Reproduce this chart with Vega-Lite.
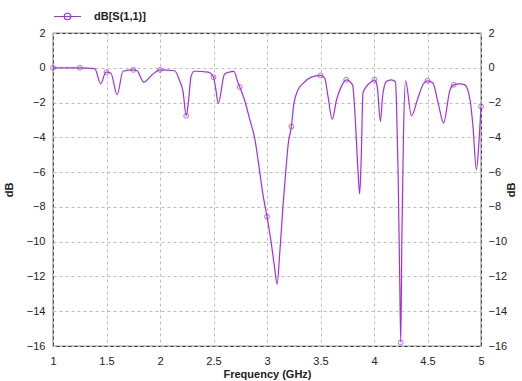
{
  "$schema": "https://vega.github.io/schema/vega-lite/v6.json",
  "width": 428,
  "height": 313,
  "autosize": {"type": "none"},
  "padding": {"left": 53, "top": 33, "right": 41, "bottom": 35},
  "background": "white",
  "config": {
    "font": "Liberation Sans",
    "view": {"stroke": "#333333", "strokeWidth": 1.2},
    "axis": {
      "labelFont": "Liberation Sans",
      "labelFontSize": 11,
      "labelColor": "#222222",
      "titleFont": "Liberation Sans",
      "titleFontSize": 11,
      "titleFontWeight": "bold",
      "titleColor": "#222222",
      "ticks": false,
      "domain": false,
      "gridColor": "#bdbdbd",
      "gridDash": [3, 3],
      "gridWidth": 1
    }
  },
  "data": {
    "values": [
      {"f": 1.0, "db": 0.0, "m": 1, "s": "dB[S(1,1)]"},
      {"f": 1.25, "db": 0.0, "m": 1, "s": "dB[S(1,1)]"},
      {"f": 1.39, "db": -0.05, "m": 0, "s": "dB[S(1,1)]"},
      {"f": 1.446, "db": -0.92, "m": 0, "s": "dB[S(1,1)]"},
      {"f": 1.49, "db": -0.28, "m": 0, "s": "dB[S(1,1)]"},
      {"f": 1.5, "db": -0.25, "m": 1, "s": "dB[S(1,1)]"},
      {"f": 1.54, "db": -0.3, "m": 0, "s": "dB[S(1,1)]"},
      {"f": 1.6, "db": -1.55, "m": 0, "s": "dB[S(1,1)]"},
      {"f": 1.654, "db": -0.2, "m": 0, "s": "dB[S(1,1)]"},
      {"f": 1.75, "db": -0.12, "m": 1, "s": "dB[S(1,1)]"},
      {"f": 1.785, "db": -0.17, "m": 0, "s": "dB[S(1,1)]"},
      {"f": 1.85, "db": -0.83, "m": 0, "s": "dB[S(1,1)]"},
      {"f": 1.92, "db": -0.44, "m": 0, "s": "dB[S(1,1)]"},
      {"f": 2.0, "db": -0.12, "m": 1, "s": "dB[S(1,1)]"},
      {"f": 2.137, "db": -0.17, "m": 0, "s": "dB[S(1,1)]"},
      {"f": 2.18, "db": -0.69, "m": 0, "s": "dB[S(1,1)]"},
      {"f": 2.215, "db": -1.36, "m": 0, "s": "dB[S(1,1)]"},
      {"f": 2.245, "db": -2.76, "m": 1, "s": "dB[S(1,1)]"},
      {"f": 2.265, "db": -2.0, "m": 0, "s": "dB[S(1,1)]"},
      {"f": 2.29, "db": -0.5, "m": 0, "s": "dB[S(1,1)]"},
      {"f": 2.32, "db": -0.2, "m": 0, "s": "dB[S(1,1)]"},
      {"f": 2.45, "db": -0.25, "m": 0, "s": "dB[S(1,1)]"},
      {"f": 2.5, "db": -0.54, "m": 1, "s": "dB[S(1,1)]"},
      {"f": 2.52, "db": -1.17, "m": 0, "s": "dB[S(1,1)]"},
      {"f": 2.545, "db": -2.05, "m": 0, "s": "dB[S(1,1)]"},
      {"f": 2.6, "db": -0.4, "m": 0, "s": "dB[S(1,1)]"},
      {"f": 2.62, "db": -0.3, "m": 0, "s": "dB[S(1,1)]"},
      {"f": 2.69, "db": -0.21, "m": 0, "s": "dB[S(1,1)]"},
      {"f": 2.73, "db": -0.88, "m": 0, "s": "dB[S(1,1)]"},
      {"f": 2.745, "db": -1.1, "m": 1, "s": "dB[S(1,1)]"},
      {"f": 2.79, "db": -1.85, "m": 0, "s": "dB[S(1,1)]"},
      {"f": 2.84, "db": -3.0, "m": 0, "s": "dB[S(1,1)]"},
      {"f": 2.885, "db": -4.05, "m": 0, "s": "dB[S(1,1)]"},
      {"f": 2.925, "db": -5.68, "m": 0, "s": "dB[S(1,1)]"},
      {"f": 2.96, "db": -7.21, "m": 0, "s": "dB[S(1,1)]"},
      {"f": 3.0, "db": -8.56, "m": 1, "s": "dB[S(1,1)]"},
      {"f": 3.04, "db": -10.1, "m": 0, "s": "dB[S(1,1)]"},
      {"f": 3.07, "db": -11.44, "m": 0, "s": "dB[S(1,1)]"},
      {"f": 3.094, "db": -12.45, "m": 0, "s": "dB[S(1,1)]"},
      {"f": 3.119, "db": -10.67, "m": 0, "s": "dB[S(1,1)]"},
      {"f": 3.15, "db": -7.9, "m": 0, "s": "dB[S(1,1)]"},
      {"f": 3.18, "db": -5.6, "m": 0, "s": "dB[S(1,1)]"},
      {"f": 3.2, "db": -4.3, "m": 0, "s": "dB[S(1,1)]"},
      {"f": 3.228, "db": -3.38, "m": 1, "s": "dB[S(1,1)]"},
      {"f": 3.25, "db": -2.1, "m": 0, "s": "dB[S(1,1)]"},
      {"f": 3.29, "db": -1.27, "m": 0, "s": "dB[S(1,1)]"},
      {"f": 3.34, "db": -0.88, "m": 0, "s": "dB[S(1,1)]"},
      {"f": 3.415, "db": -0.54, "m": 0, "s": "dB[S(1,1)]"},
      {"f": 3.5, "db": -0.44, "m": 1, "s": "dB[S(1,1)]"},
      {"f": 3.54, "db": -0.59, "m": 0, "s": "dB[S(1,1)]"},
      {"f": 3.57, "db": -1.65, "m": 0, "s": "dB[S(1,1)]"},
      {"f": 3.61, "db": -2.95, "m": 0, "s": "dB[S(1,1)]"},
      {"f": 3.65, "db": -1.84, "m": 0, "s": "dB[S(1,1)]"},
      {"f": 3.695, "db": -1.07, "m": 0, "s": "dB[S(1,1)]"},
      {"f": 3.74, "db": -0.69, "m": 1, "s": "dB[S(1,1)]"},
      {"f": 3.8, "db": -0.98, "m": 0, "s": "dB[S(1,1)]"},
      {"f": 3.82, "db": -2.42, "m": 0, "s": "dB[S(1,1)]"},
      {"f": 3.85, "db": -5.87, "m": 0, "s": "dB[S(1,1)]"},
      {"f": 3.866, "db": -7.25, "m": 0, "s": "dB[S(1,1)]"},
      {"f": 3.88, "db": -5.3, "m": 0, "s": "dB[S(1,1)]"},
      {"f": 3.897, "db": -1.46, "m": 0, "s": "dB[S(1,1)]"},
      {"f": 3.93, "db": -1.07, "m": 0, "s": "dB[S(1,1)]"},
      {"f": 3.96, "db": -0.88, "m": 0, "s": "dB[S(1,1)]"},
      {"f": 4.005, "db": -0.69, "m": 1, "s": "dB[S(1,1)]"},
      {"f": 4.03, "db": -1.07, "m": 0, "s": "dB[S(1,1)]"},
      {"f": 4.06, "db": -3.09, "m": 0, "s": "dB[S(1,1)]"},
      {"f": 4.08, "db": -1.65, "m": 0, "s": "dB[S(1,1)]"},
      {"f": 4.115, "db": -0.79, "m": 0, "s": "dB[S(1,1)]"},
      {"f": 4.16, "db": -0.69, "m": 0, "s": "dB[S(1,1)]"},
      {"f": 4.2, "db": -0.79, "m": 0, "s": "dB[S(1,1)]"},
      {"f": 4.21, "db": -2.0, "m": 0, "s": "dB[S(1,1)]"},
      {"f": 4.225, "db": -6.0, "m": 0, "s": "dB[S(1,1)]"},
      {"f": 4.24, "db": -12.0, "m": 0, "s": "dB[S(1,1)]"},
      {"f": 4.25, "db": -15.79, "m": 1, "s": "dB[S(1,1)]"},
      {"f": 4.26, "db": -10.0, "m": 0, "s": "dB[S(1,1)]"},
      {"f": 4.275, "db": -4.0, "m": 0, "s": "dB[S(1,1)]"},
      {"f": 4.295, "db": -0.75, "m": 0, "s": "dB[S(1,1)]"},
      {"f": 4.35, "db": -2.76, "m": 0, "s": "dB[S(1,1)]"},
      {"f": 4.41, "db": -1.75, "m": 0, "s": "dB[S(1,1)]"},
      {"f": 4.457, "db": -0.98, "m": 0, "s": "dB[S(1,1)]"},
      {"f": 4.5, "db": -0.75, "m": 1, "s": "dB[S(1,1)]"},
      {"f": 4.55, "db": -0.88, "m": 0, "s": "dB[S(1,1)]"},
      {"f": 4.6, "db": -2.03, "m": 0, "s": "dB[S(1,1)]"},
      {"f": 4.65, "db": -3.18, "m": 0, "s": "dB[S(1,1)]"},
      {"f": 4.71, "db": -1.27, "m": 0, "s": "dB[S(1,1)]"},
      {"f": 4.745, "db": -0.98, "m": 1, "s": "dB[S(1,1)]"},
      {"f": 4.8, "db": -0.92, "m": 0, "s": "dB[S(1,1)]"},
      {"f": 4.85, "db": -0.98, "m": 0, "s": "dB[S(1,1)]"},
      {"f": 4.9, "db": -1.94, "m": 0, "s": "dB[S(1,1)]"},
      {"f": 4.925, "db": -3.38, "m": 0, "s": "dB[S(1,1)]"},
      {"f": 4.957, "db": -5.87, "m": 0, "s": "dB[S(1,1)]"},
      {"f": 4.98, "db": -4.34, "m": 0, "s": "dB[S(1,1)]"},
      {"f": 5.0, "db": -2.23, "m": 1, "s": "dB[S(1,1)]"}
    ]
  },
  "layer": [
    {
      "mark": {"type": "line", "strokeWidth": 1.2, "clip": true, "interpolate": "monotone"},
      "encoding": {
        "x": {
          "field": "f", "type": "quantitative",
          "scale": {"domain": [1, 5], "nice": false, "zero": false},
          "axis": {"title": "Frequency (GHz)", "values": [1, 1.5, 2, 2.5, 3, 3.5, 4, 4.5, 5], "format": "~g", "labelFlush": false, "labelPadding": 9, "titlePadding": 2, "grid": true}
        },
        "y": {
          "field": "db", "type": "quantitative",
          "scale": {"domain": [-16, 2], "nice": false, "zero": false},
          "axis": {"orient": "left", "title": "dB", "values": [-16, -14, -12, -10, -8, -6, -4, -2, 0, 2], "labelPadding": 8, "titlePadding": 12, "grid": true, "labelFlush": false}
        },
        "color": {
          "field": "s", "type": "nominal",
          "scale": {"range": ["#a52ee0"]},
          "legend": {
            "title": null,
            "orient": "none",
            "legendX": 0,
            "legendY": -31,
            "symbolType": "M-1,0H1M-0.24,0A0.24,0.24 0 1,1 0.24,0A0.24,0.24 0 1,1 -0.24,0",
            "symbolSize": 729,
            "symbolStrokeWidth": 1.2,
            "labelFont": "Liberation Sans",
            "labelFontSize": 11,
            "labelFontWeight": "bold",
            "labelColor": "#222222",
            "labelOffset": 12
          }
        }
      }
    },
    {
      "transform": [{"filter": "datum.m == 1"}],
      "mark": {"type": "point", "shape": "circle", "size": 24, "filled": false, "strokeWidth": 1, "color": "#a52ee0"},
      "encoding": {
        "x": {"field": "f", "type": "quantitative"},
        "y": {
          "field": "db", "type": "quantitative",
          "axis": {"orient": "right", "title": "dB", "titleAngle": -90, "values": [-16, -14, -12, -10, -8, -6, -4, -2, 0, 2], "labelPadding": 7, "titlePadding": 10, "grid": false, "labelFlush": false}
        }
      }
    }
  ],
  "resolve": {"axis": {"y": "independent"}}
}
